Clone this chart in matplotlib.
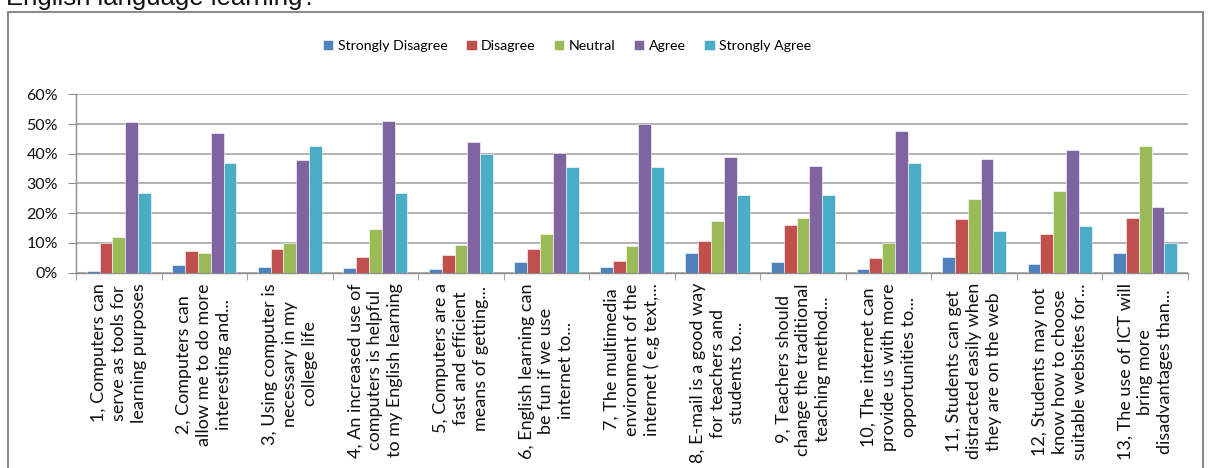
import numpy as np
import matplotlib
matplotlib.use("Agg")
import matplotlib.pyplot as plt
from matplotlib.patches import Rectangle

# survey items (x tick labels, as shown on the chart)
items = [
    "1, Computers can\nserve as tools for\nlearning purposes",
    "2, Computers can\nallow me to do more\ninteresting and...",
    "3, Using computer is\nnecessary in my\ncollege life",
    "4, An increased use of\ncomputers is helpful\nto my English learning",
    "5, Computers are a\nfast and efficient\nmeans of getting...",
    "6, English learning can\nbe fun if we use\ninternet to...",
    "7, The multimedia\nenvironment of the\ninternet ( e,g text,...",
    "8, E-mail is a good way\nfor teachers and\nstudents to...",
    "9, Teachers should\nchange the traditional\nteaching method...",
    "10, The internet can\nprovide us with more\nopportunities to...",
    "11, Students can get\ndistracted easily when\nthey are on the web",
    "12, Students may not\nknow how to choose\nsuitable websites for...",
    "13, The use of ICT will\nbring more\ndisadvantages than...",
]

series_names = ["Strongly Disagree", "Disagree", "Neutral", "Agree", "Strongly Agree"]

# percentages
strongly_disagree = [0.7, 2.5, 1.9, 1.5, 1.1, 3.7, 1.9, 6.7, 3.7, 1.1, 5.4, 2.8, 6.7]
disagree = [10.1, 7.2, 8.0, 5.4, 5.8, 8.0, 4.1, 10.5, 16.1, 4.9, 17.9, 13.1, 18.3]
neutral = [11.9, 6.7, 10.1, 14.8, 9.3, 13.1, 8.9, 17.5, 18.3, 9.9, 24.8, 27.4, 42.5]
agree = [50.7, 46.9, 37.9, 51.1, 43.8, 40.2, 50.1, 39.0, 36.0, 47.6, 38.1, 41.1, 22.2]
strongly_agree = [26.9, 36.9, 42.5, 26.9, 40.0, 35.5, 35.5, 26.0, 26.0, 36.9, 14.0, 15.7, 10.1]

colors = ["#4F81BD", "#C0504D", "#9BBB59", "#8064A2", "#4BACC6"]

W, H = 1212, 468
fig = plt.figure(figsize=(W / 100, H / 100), dpi=100)

# cut-off question text above the chart box
fig.text(6 / W, 1 - 5 / H, "English language learning?", fontsize=18.5,
         family="Liberation Sans", va="baseline", ha="left", color="#111111")

# chart border (runs past the bottom of the image)
fig.patches.append(Rectangle((8 / W, -0.1), (1203 - 8) / W, 1.1 - 12 / H,
                             transform=fig.transFigure, fill=False,
                             edgecolor="#8c8c8c", linewidth=1.5, clip_on=False))

ax = fig.add_axes([76 / W, 1 - 272.7 / H, (1188 - 76) / W, (272.7 - 94.3) / H])

x = np.arange(len(items))
bw = 0.15
all_vals = [strongly_disagree, disagree, neutral, agree, strongly_agree]
for i, (name, vals, c) in enumerate(zip(series_names, all_vals, colors)):
    ax.bar(x + (i - 2) * bw, vals, width=bw, color=c, label=name,
           edgecolor="white", linewidth=0.4, zorder=3)

ax.set_xlim(-0.5, len(items) - 0.5)
ax.set_ylim(0, 60)
ax.set_yticks(range(0, 61, 10))
ax.set_yticklabels([f"{v}%" for v in range(0, 61, 10)], family="Lato", fontsize=11.5,
                   color="#111111")
ax.yaxis.grid(True, color="#a6a6a6", linewidth=1.2, zorder=0)
ax.set_axisbelow(True)

ax.set_xticks(x)
ax.set_xticklabels([])
ax.set_xticks(np.arange(-0.5, len(items)), minor=True)
ax.tick_params(axis="x", which="major", length=0)
ax.tick_params(axis="x", which="minor", length=5, color="#8c8c8c", direction="out")
ax.tick_params(axis="y", length=6, color="#8c8c8c", pad=7)

for sp in ["top", "right"]:
    ax.spines[sp].set_visible(False)
for sp in ["left", "bottom"]:
    ax.spines[sp].set_color("#8c8c8c")
    ax.spines[sp].set_linewidth(1.0)

for xi, lab in zip(x, items):
    ax.annotate(lab, xy=(xi, 0), xycoords="data", xytext=(0, -7.5),
                textcoords="offset points", rotation=90, ha="center", va="top",
                multialignment="center", fontsize=13, family="Lato",
                linespacing=1.3, color="#111111")

leg = fig.legend(loc="center", bbox_to_anchor=(567 / W, 1 - 45.7 / H), ncol=5,
                 frameon=False, prop={"family": "Lato", "size": 10.2},
                 handlelength=0.75, handleheight=0.75, handletextpad=0.3,
                 columnspacing=1.3)

fig.savefig("out.png", dpi=100)
